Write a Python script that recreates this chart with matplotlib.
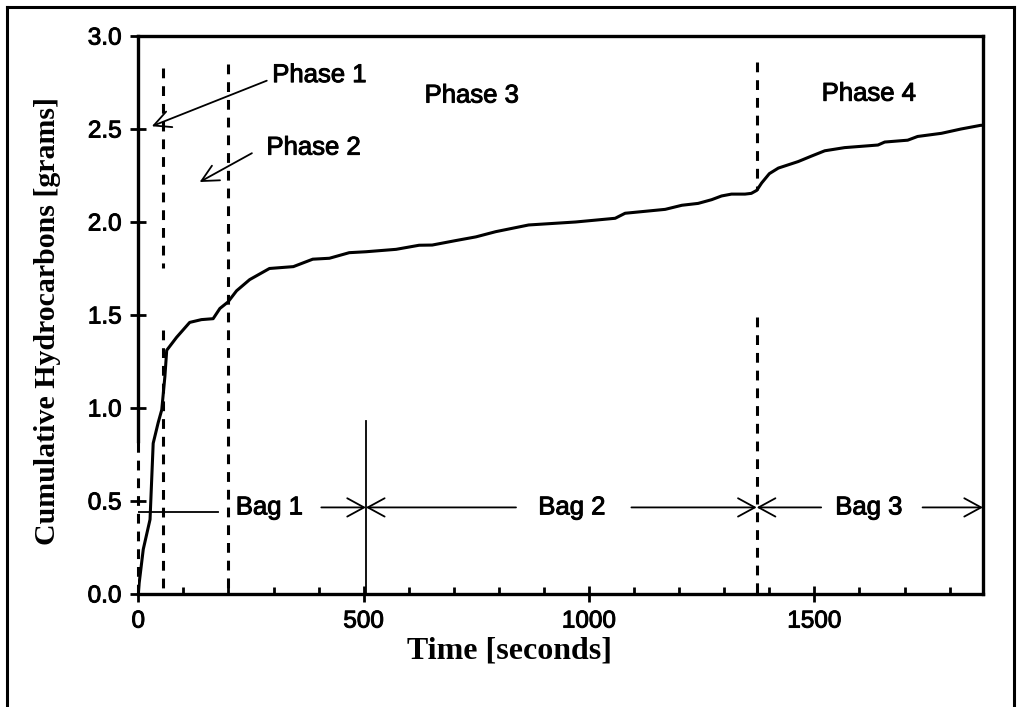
import numpy as np
import matplotlib
matplotlib.use('Agg')
import matplotlib.pyplot as plt
import matplotlib.patheffects as pe
from matplotlib.lines import Line2D
from matplotlib.ticker import MultipleLocator, FormatStrFormatter

# cumulative HC mass over the test cycle
time_s = [0, 2, 11, 26, 33, 44, 52, 59, 63, 85, 114, 140, 166, 181, 199, 218,
          247, 291, 344, 387, 424, 468, 505, 572, 623, 652, 704, 749, 793, 866,
          970, 1058, 1080, 1169, 1206, 1242, 1272, 1294, 1316, 1346, 1360, 1372,
          1383, 1400, 1420, 1464, 1494, 1523, 1567, 1641, 1656, 1707, 1729, 1782,
          1825, 1869, 1874]
hc_g = [0, 0.06, 0.24, 0.40, 0.81, 0.92, 0.99, 1.17, 1.31, 1.38, 1.46, 1.475,
        1.48, 1.535, 1.57, 1.63, 1.69, 1.75, 1.76, 1.80, 1.805, 1.835, 1.84,
        1.853, 1.875, 1.876, 1.90, 1.92, 1.948, 1.984, 2.00, 2.02, 2.047, 2.068,
        2.09, 2.10, 2.12, 2.14, 2.15, 2.15, 2.154, 2.17, 2.21, 2.26, 2.29,
        2.325, 2.355, 2.383, 2.40, 2.414, 2.43, 2.44, 2.46, 2.477, 2.50, 2.52,
        2.52]

t_end = 1874
phase_bounds = [55, 198, 1372]
bag_bounds = [0, 505, 1372, t_end]
bag_labels = ['Bag 1', 'Bag 2', 'Bag 3']
bag_text_x = [291, 962, 1621]
bag_gap = [(177, 406), (838, 1094), (1515, 1740)]
bag_y = 0.465

sans = 'Liberation Sans'
serif = 'Liberation Serif'
heavy = [pe.withStroke(linewidth=0.7, foreground='k')]

fig = plt.figure(figsize=(10.2, 7.07), dpi=100)
ax = fig.add_axes([0.1356, 0.160, 0.8281, 0.789])

ax.plot(time_s, hc_g, color='k', lw=2.2, zorder=5)

# phase boundaries (dashed) and bag boundaries
dash = dict(color='k', lw=2.2, ls=(0, (3.2, 2.6)), clip_on=False)
ax.plot([phase_bounds[0]] * 2, [2.83, 1.75], **dash)
ax.plot([phase_bounds[0]] * 2, [1.42, 0], **dash)
ax.plot([phase_bounds[1]] * 2, [2.85, 0], **dash)
ax.plot([phase_bounds[2]] * 2, [2.86, 2.17], **dash)
ax.plot([phase_bounds[2]] * 2, [1.49, 0], **dash)
ax.plot([0, 0], [0, 0.82], **dash)
ax.plot([bag_bounds[1]] * 2, [0, 0.93], color='k', lw=1.3)

# bag spans
arr = dict(arrowstyle='->,head_length=0.55,head_width=0.3', lw=1.3, color='k',
           mutation_scale=22, shrinkA=0, shrinkB=0)
for i, lab in enumerate(bag_labels):
    ax.text(bag_text_x[i], bag_y, lab, ha='center', va='center',
            fontsize=18.5, family=sans, path_effects=heavy)
    g0, g1 = bag_gap[i]
    if i == 0:
        ax.plot([bag_bounds[0], g0], [bag_y - 0.025] * 2, color='k', lw=1.3)
    else:
        ax.annotate('', xy=(bag_bounds[i], bag_y), xytext=(g0, bag_y),
                    arrowprops=arr)
    ax.annotate('', xy=(bag_bounds[i + 1], bag_y), xytext=(g1, bag_y),
                arrowprops=arr)

# phase labels
parr = dict(arrowstyle='->,head_length=0.6,head_width=0.3', lw=1.3, color='k',
            mutation_scale=20, shrinkA=0, shrinkB=0)
ptxt = dict(ha='center', va='center', fontsize=18.5, family=sans,
            path_effects=heavy)
ax.text(402, 2.79, 'Phase 1', **ptxt)
ax.annotate('', xy=(30, 2.515), xytext=(285, 2.76), arrowprops=parr)
ax.text(389, 2.40, 'Phase 2', **ptxt)
ax.annotate('', xy=(136, 2.215), xytext=(252, 2.37), arrowprops=parr)
ax.text(740, 2.68, 'Phase 3', **ptxt)
ax.text(1621, 2.69, 'Phase 4', **ptxt)

ax.set_xlim(0, t_end)
ax.set_ylim(0, 3.0)
ax.xaxis.set_major_locator(MultipleLocator(500))
ax.xaxis.set_minor_locator(MultipleLocator(100))
ax.yaxis.set_major_locator(MultipleLocator(0.5))
ax.yaxis.set_major_formatter(FormatStrFormatter('%.1f'))
ax.tick_params(which='major', direction='inout', length=12, width=2, labelsize=17.5,
               pad=6)
ax.tick_params(which='minor', direction='in', length=5, width=2)
for label in ax.get_xticklabels() + ax.get_yticklabels():
    label.set_family(sans)
    label.set_path_effects(heavy)
for s in ax.spines.values():
    s.set_linewidth(2.4)
ax.spines['left'].set_bounds(0.82, 3.0)

ax.set_xlabel('Time [seconds]', family=serif, weight='bold', fontsize=23)
ax.xaxis.set_label_coords(0.44, -0.077)
ax.set_ylabel('Cumulative Hydrocarbons [grams]', family=serif, weight='bold',
              fontsize=21.5)
ax.yaxis.set_label_coords(-0.092, 0.49)

# page frame
for xs, ys in [([7, 7], [0, 700]), ([7, 1014], [700, 700]), ([1014, 1014], [700, 0])]:
    fig.add_artist(Line2D(np.array(xs) / 1020, np.array(ys) / 707,
                          transform=fig.transFigure, color='k', lw=2.2))

fig.savefig('out.png', dpi=100)
